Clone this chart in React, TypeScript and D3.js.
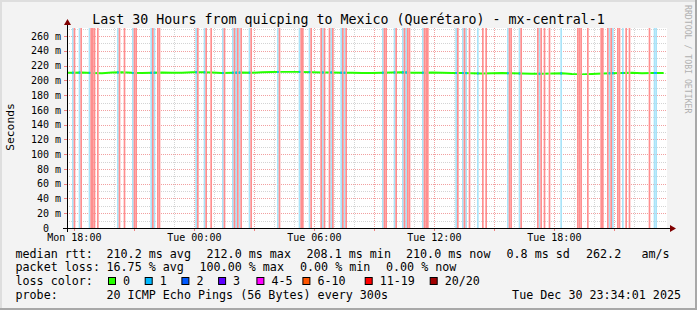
import React from "react";
import * as d3 from "d3";

// ---------- data ----------
const titleText = "Last 30 Hours from quicping to Mexico (Querétaro) - mx-central-1";
const graphStart = new Date(2025, 11, 29, 17, 38);
const graphEnd = new Date(2025, 11, 30, 23, 38);
const stepMinutes = 5;
const medianStepMinutes = 30;
const lastDataSlot = 357;
const yMaxMs = 271;
const yMajorTicks = [0, 20, 40, 60, 80, 100, 120, 140, 160, 180, 200, 220, 240, 260];

// median rtt (ms), one value per 30 minutes
const medianRtt = [
  210.4, 210.8, 210.1, 209.6, 210.6, 210.9, 210.3, 210.0, 210.5, 210.7,
  210.2, 210.4, 210.9, 211.0, 210.6, 210.1, 210.5, 210.8, 210.3, 210.9,
  211.3, 211.6, 212.0, 211.4, 211.1, 210.8, 210.6, 210.4, 210.2, 210.0,
  210.1, 210.4, 210.6, 210.9, 210.5, 210.3, 210.7, 210.2, 209.9, 210.1,
  209.8, 209.5, 209.7, 209.9, 209.6, 209.3, 209.1, 208.9, 209.4, 209.6,
  208.6, 208.1, 208.8, 209.4, 209.7, 209.9, 210.2, 209.8, 210.1, 210.0,
];

// 5-minute slots (from graph start) with 1/20 packet loss
const partialLossSlots = [
  3, 7, 13, 30, 39, 50, 52, 77, 82, 93, 99, 101, 103, 109, 126, 139, 145, 153, 158,
  164, 166, 189, 196, 201, 203, 213, 233, 237, 239, 246, 264, 271, 283, 296, 325,
  327, 333, 352, 353,
];
// 5-minute slots with 20/20 packet loss
const totalLossSlots = [
  4, 8, 14, 15, 16, 18, 31, 34, 40, 41, 51, 54, 55, 78, 83, 86, 94, 100, 102, 104,
  110, 127, 140, 141, 146, 152, 154, 157, 159, 165, 167, 190, 191, 197, 202, 204,
  205, 214, 215, 216, 234, 238, 241, 249, 251, 265, 266, 272, 282, 284, 286, 289,
  306, 307, 308, 312, 320, 321, 324, 326, 330, 331, 335, 337, 349,
];

const rttStatValues = ["210.2", "212.0", "208.1", "210.0", "0.8"];
const rttStatUnits = ["ms avg", "ms max", "ms min", "ms now", "ms sd"];
const amsValue = "262.2";
const lossStatValues = ["16.75", "100.00", "0.00", "0.00"];
const lossStatUnits = ["% avg", "% max", "% min", "% now"];
const lossLabels = ["0", "1", "2", "3", "4-5", "6-10", "11-19", "20/20"];
const lossColors = ["#26ff00", "#00b8ff", "#0059ff", "#5e00ff", "#ff00ff", "#ff5500", "#ff0000", "#a10000"];
const probeText = "20 ICMP Echo Pings (56 Bytes) every 300s";
const stampText = "Tue Dec 30 23:34:01 2025";

// ---------- layout ----------
const W = 697;
const H = 310;
const PL = 67, PR = 667, PT = 28, PB = 228;
const MONO = "'DejaVu Sans Mono', monospace";

export default function App() {
  const x = d3.scaleTime().domain([graphStart, graphEnd]).range([PL, PR]);
  const y = d3.scaleLinear().domain([0, yMaxMs]).range([PB, PT]);
  const slotTime = (s: number) => d3.timeMinute.offset(graphStart, s * stepMinutes);
  const slotW = x(slotTime(1)) - x(slotTime(0));

  const minorX = x.ticks(d3.timeHour.every(1)!);
  const majorX = x.ticks(d3.timeHour.every(3)!);
  const labelX = x.ticks(d3.timeHour.every(6)!);
  const fmt = d3.timeFormat("%a %H:%M");
  const minorY = d3.range(10, yMaxMs, 20);

  const pts: [Date, number][] = medianRtt.map((v, i) => [
    d3.timeMinute.offset(graphStart, i * medianStepMinutes + medianStepMinutes / 2),
    v,
  ]);
  const linePts: [Date, number][] = [
    [graphStart, medianRtt[0]],
    ...pts,
    [slotTime(lastDataSlot + 1), medianRtt[medianRtt.length - 1]],
  ];
  const line = d3
    .line<[Date, number]>()
    .x((d) => x(d[0]))
    .y((d) => y(d[1]));
  const pathD = line(linePts) || "";

  const legendFont = 11.7;
  const rttX = [106.5, 206.5, 306.5, 406, 506.5];
  const lossX = [106.5, 199.5, 300, 386];
  const boxX = [108.5, 145.2, 181.9, 218.6, 256.9, 302.9, 365.2, 430.2];
  const rows = [257.5, 271.3, 285.1, 298.9];

  return (
    <svg
      width={W}
      height={H}
      viewBox={`0 0 ${W} ${H}`}
      style={{ position: "absolute", left: 0, top: 0, display: "block" }}
    >
      <defs>
        <mask id="gapMask">
          <rect x={0} y={0} width={W} height={H} fill="white" />
          {totalLossSlots.map((s) => (
            <rect key={s} x={x(slotTime(s))} y={PT} width={slotW} height={PB - PT} fill="black" />
          ))}
        </mask>
        <clipPath id="partialClip">
          {partialLossSlots.map((s) => (
            <rect key={s} x={x(slotTime(s))} y={PT} width={slotW} height={PB - PT} />
          ))}
        </clipPath>
      </defs>

      {/* canvas */}
      <rect x={0} y={0} width={W} height={H} fill="#f3f3f3" />
      <rect x={0} y={0} width={W} height={2} fill="#dedede" />
      <rect x={0} y={0} width={2} height={H} fill="#dedede" />
      <rect x={0} y={H - 2} width={W} height={2} fill="#a8a8a8" />
      <rect x={W - 2} y={0} width={2} height={H} fill="#a8a8a8" />

      {/* plot area */}
      <rect x={PL} y={PT} width={PR - PL} height={PB - PT} fill="#ffffff" />

      {/* minor grid */}
      <g stroke="#d4d4d4" strokeWidth={1} strokeDasharray="1,1">
        {minorX.map((t) => (
          <line key={+t} x1={Math.round(x(t)) + 0.5} x2={Math.round(x(t)) + 0.5} y1={PT} y2={PB} />
        ))}
        {minorY.map((v) => (
          <line key={v} x1={PL} x2={PR} y1={Math.round(y(v)) + 0.5} y2={Math.round(y(v)) + 0.5} />
        ))}
      </g>
      {/* major grid */}
      <g stroke="#f2a0a0" strokeWidth={1} strokeDasharray="1,1">
        {majorX.map((t) => (
          <line key={+t} x1={Math.round(x(t)) + 0.5} x2={Math.round(x(t)) + 0.5} y1={PT} y2={PB} />
        ))}
        {yMajorTicks.slice(1).map((v) => (
          <line key={v} x1={PL} x2={PR} y1={Math.round(y(v)) + 0.5} y2={Math.round(y(v)) + 0.5} />
        ))}
      </g>

      {/* loss bars */}
      {partialLossSlots.map((s) => (
        <rect key={"p" + s} x={x(slotTime(s))} y={PT} width={slotW} height={PB - PT} fill="#a9e3f8" />
      ))}
      {totalLossSlots.map((s) => (
        <rect key={"t" + s} x={x(slotTime(s))} y={PT} width={slotW} height={PB - PT} fill="#ff8e8e" />
      ))}

      {/* median line */}
      <path d={pathD} fill="none" stroke="#26ff00" strokeWidth={2} mask="url(#gapMask)" />
      <path d={pathD} fill="none" stroke="#00b8ff" strokeWidth={2} clipPath="url(#partialClip)" />

      {/* ticks */}
      {majorX.map((t) => (
        <line key={"mt" + +t} x1={Math.round(x(t)) + 0.5} x2={Math.round(x(t)) + 0.5} y1={PB} y2={PB + 3} stroke="#f08080" />
      ))}
      {yMajorTicks.slice(1).map((v) => (
        <line key={"yt" + v} x1={PL - 3} x2={PL} y1={Math.round(y(v)) + 0.5} y2={Math.round(y(v)) + 0.5} stroke="#f08080" />
      ))}

      {/* axes */}
      <line x1={PL - 4} x2={PR + 4} y1={PB + 0.5} y2={PB + 0.5} stroke="#000" strokeWidth={1} />
      <line x1={PL + 0.5} x2={PL + 0.5} y1={PB + 4} y2={PT - 4} stroke="#000" strokeWidth={1} />
      <path d={`M${PR + 3},${PB - 3} L${PR + 9},${PB + 0.5} L${PR + 3},${PB + 4} Z`} fill="#800000" />
      <path d={`M${PL - 3},${PT - 3} L${PL + 0.5},${PT - 9} L${PL + 4},${PT - 3} Z`} fill="#800000" />

      {/* axis labels */}
      <g fontFamily={MONO} fontSize={10} fill="#000">
        {yMajorTicks.map((v) => (
          <text key={v} x={v === 0 ? 61 - 12 : 61} y={y(v) + 3.6} textAnchor="end">
            {v === 0 ? "0" : `${v} m`}
          </text>
        ))}
        {labelX.map((t) => (
          <text key={+t} x={x(t)} y={241} textAnchor="middle">
            {fmt(t)}
          </text>
        ))}
      </g>

      {/* title */}
      <text x={W / 2} y={24} textAnchor="middle" fontFamily={MONO} fontSize={13.3} fill="#000">
        {titleText}
      </text>
      <text
        transform={`translate(14,127) rotate(-90)`}
        textAnchor="middle"
        fontFamily={MONO}
        fontSize={11.3}
        fill="#000"
      >
        Seconds
      </text>
      <text
        transform={`translate(685,5) rotate(90)`}
        textAnchor="start"
        fontFamily={MONO}
        fontSize={8.2}
        fill="#b0b0b0"
      >
        RRDTOOL / TOBI OETIKER
      </text>

      {/* legend */}
      <g fontFamily={MONO} fontSize={legendFont} fill="#000" style={{ whiteSpace: "pre" }}>
        <text x={15.5} y={rows[0]}>median rtt:</text>
        {rttStatValues.map((v, i) => (
          <text key={"r" + i} x={rttX[i]} y={rows[0]}>{`${v} ${rttStatUnits[i]}`}</text>
        ))}
        <text x={586} y={rows[0]}>{amsValue}</text>
        <text x={641.5} y={rows[0]}>am/s</text>

        <text x={15.5} y={rows[1]}>packet loss:</text>
        {lossStatValues.map((v, i) => (
          <text key={"l" + i} x={lossX[i]} y={rows[1]}>{`${v} ${lossStatUnits[i]}`}</text>
        ))}

        <text x={15.5} y={rows[2]}>loss color:</text>
        {lossLabels.map((lab, i) => (
          <g key={"c" + i}>
            <rect x={boxX[i]} y={277.5} width={7} height={7} fill={lossColors[i]} stroke="#000" strokeWidth={1} />
            <text x={boxX[i] + 14.5} y={rows[2]}>{lab}</text>
          </g>
        ))}

        <text x={15.5} y={rows[3]}>probe:</text>
        <text x={106.5} y={rows[3]}>{probeText}</text>
        <text x={681} y={rows[3]} textAnchor="end">{stampText}</text>
      </g>
    </svg>
  );
}
